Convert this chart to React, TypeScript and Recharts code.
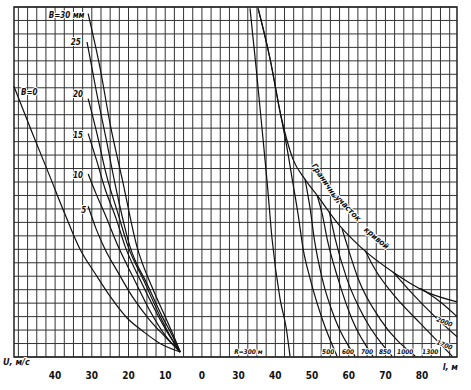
import React from 'react';
import { LineChart, Line, XAxis, YAxis, CartesianGrid, ReferenceDot, ReferenceArea } from 'recharts';

// left family: speed U, m/s (axis runs right to left), labelled by B, mm
const b0U = [51.2, 46.3, 41.4, 37.3, 33.2, 29.1, 25.0, 20.4, 16.0, 11.4, 5.9];
const b0Y = [20.1, 16.7, 13.4, 10.6, 8.0, 6.2, 4.5, 2.9, 1.9, 1.0, 0.37];
const b5U = [31.0, 28.8, 26.4, 23.1, 19.0, 14.4, 10.0, 5.9];
const b5Y = [11.2, 9.5, 8.0, 6.4, 4.5, 2.8, 1.5, 0.37];
const b10U = [31.0, 28.8, 26.1, 22.8, 18.7, 14.1, 10.0, 5.9];
const b10Y = [13.6, 12.1, 10.4, 8.2, 5.9, 3.4, 1.6, 0.37];
const b15U = [31.0, 28.8, 26.4, 23.4, 20.9, 16.6, 12.2, 8.9, 5.9];
const b15Y = [16.6, 14.7, 12.5, 10.3, 8.2, 5.6, 3.2, 1.6, 0.37];
const b20U = [31.0, 28.6, 26.1, 22.8, 20.1, 15.7, 11.7, 8.7, 5.9];
const b20Y = [19.2, 16.6, 13.6, 10.6, 8.2, 5.6, 3.2, 1.6, 0.37];
const b25U = [31.3, 28.6, 26.1, 23.7, 19.6, 14.9, 10.8, 8.1, 5.9];
const b25Y = [23.4, 19.5, 16.2, 12.9, 8.2, 5.4, 3.0, 1.6, 0.37];
const b30U = [31.0, 27.7, 25.0, 21.7, 17.7, 13.6, 10.0, 7.6, 5.9];
const b30Y = [25.5, 21.4, 17.3, 13.2, 8.2, 5.2, 3.0, 1.5, 0.37];

// right family: length l, m, labelled by radius R, m
const r300L = [33.1, 34.8, 36.4, 37.8, 39.1, 41.3, 43.0, 44.0];
const r300Y = [25.9, 21.4, 16.9, 12.9, 8.8, 4.3, 2.1, 0.07];
const r500L = [35.3, 38.6, 41.3, 43.2, 44.8, 46.2, 47.6, 49.5, 52.8, 56.8];
const r500Y = [25.9, 22.1, 18.2, 15.5, 12.9, 10.6, 8.0, 5.8, 2.8, 0.07];
const r600L = [48.1, 49.5, 50.6, 52.8, 56.3, 61.7];
const r600Y = [13.2, 11.0, 8.8, 5.8, 2.8, 0.07];
const r700L = [51.4, 52.8, 54.1, 57.1, 60.9, 66.6];
const r700Y = [12.0, 10.6, 8.8, 5.8, 2.8, 0.07];
const r850L = [54.7, 56.3, 59.5, 64.5, 71.8];
const r850Y = [10.8, 8.8, 5.8, 2.8, 0.07];
const r1000L = [58.2, 59.0, 62.6, 68.6, 78.1];
const r1000Y = [9.5, 8.8, 5.8, 2.8, 0.07];
const r1300L = [64.5, 67.2, 72.6, 79.5, 88.2];
const r1300Y = [7.9, 6.5, 4.5, 2.5, 0.07];
const r1700L = [72.1, 76.7, 83.5, 89.5];
const r1700Y = [6.3, 4.9, 3.0, 1.5];
const r2000L = [79.5, 84.9, 89.5];
const r2000Y = [5.1, 4.1, 3.0];
const edgeL = [35.3, 38.6, 41.3, 44.8, 48.1, 51.4, 57.7, 63.1, 72.1, 81.4, 89.5];
const edgeY = [25.9, 22.1, 18.2, 14.7, 13.2, 12.0, 9.7, 8.2, 6.3, 4.8, 4.1];

const xTicks = [-40, -30, -20, -10, 0, 10, 20, 30, 40, 50, 60];
const xTickLabels = ['40', '30', '20', '10', '0', '30', '40', '50', '60', '70', '80'];

const X_MIN = -51.2;
const X_MAX = 69.5;

const left = (u: number[], y: number[]) => u.map((v, i) => ({ x: -v, y: y[i] }));
const right = (l: number[], y: number[]) => l.map((v, i) => ({ x: v - 20, y: y[i] }));

const series = [
  left(b0U, b0Y), left(b5U, b5Y), left(b10U, b10Y), left(b15U, b15Y),
  left(b20U, b20Y), left(b25U, b25Y), left(b30U, b30Y),
  right(r300L, r300Y), right(r500L, r500Y), right(r600L, r600Y), right(r700L, r700Y),
  right(r850L, r850Y), right(r1000L, r1000Y), right(r1300L, r1300Y),
  right(r1700L, r1700Y), right(r2000L, r2000Y), right(edgeL, edgeY),
];

const vGrid: number[] = [];
for (let v = -50; v < X_MAX; v += 2.5) vGrid.push(v);
const hGrid: number[] = [];
for (let v = 1; v < 26; v += 1) hGrid.push(v);

const FONT = "'DejaVu Sans Condensed', 'Liberation Sans Narrow', 'DejaVu Sans', sans-serif";

const note = (txt: string, size: number, anchor = 'start', angle = 0) => (p: any) => (
  <text
    x={p.cx}
    y={p.cy}
    fontSize={size}
    fontFamily={FONT}
    fontStyle="italic"
    fontWeight="bold"
    fill="#111"
    stroke="#fff"
    strokeWidth={2}
    paintOrder="stroke"
    textAnchor={anchor}
    transform={angle ? `rotate(${angle} ${p.cx} ${p.cy})` : undefined}
  >
    {txt}
  </text>
);

export default function App() {
  return (
    <div style={{ position: 'absolute', left: 0, top: 0, background: '#fff' }}>
      <LineChart width={471} height={390} margin={{ top: 7, right: 14, bottom: 0, left: 14 }}>
        <CartesianGrid stroke="#333" strokeWidth={1} verticalValues={vGrid} />
        <XAxis
          type="number"
          dataKey="x"
          domain={[X_MIN, X_MAX]}
          ticks={xTicks}
          interval={0}
          tickFormatter={(v: number) => xTickLabels[xTicks.indexOf(v)] ?? ''}
          axisLine={false}
          tickLine={false}
          height={33}
          tickMargin={9}
          tick={{ fontSize: 10, fontWeight: 'bold', fill: '#111', fontFamily: FONT }}
        />
        <YAxis type="number" dataKey="y" domain={[0, 26]} ticks={hGrid} interval={0} hide />
        <ReferenceArea x1={X_MIN} x2={X_MAX} y1={0} y2={26} fill="none" stroke="#222" strokeWidth={1.5} />
        {series.map((d, i) => (
          <Line
            key={i}
            data={d}
            dataKey="y"
            type="monotone"
            stroke="#111"
            strokeWidth={1.2}
            dot={false}
            isAnimationActive={false}
          />
        ))}
        <ReferenceDot x={-32} y={25.2} r={0} shape={note('B=30 мм', 8, 'end')} />
        <ReferenceDot x={-33} y={23.2} r={0} shape={note('25', 8, 'end')} />
        <ReferenceDot x={-32.4} y={19.3} r={0} shape={note('20', 8, 'end')} />
        <ReferenceDot x={-32.4} y={16.3} r={0} shape={note('15', 8, 'end')} />
        <ReferenceDot x={-32.4} y={13.3} r={0} shape={note('10', 8, 'end')} />
        <ReferenceDot x={-31.5} y={10.7} r={0} shape={note('5', 8, 'end')} />
        <ReferenceDot x={-49.3} y={19.5} r={0} shape={note('B=0', 8)} />
        <ReferenceDot x={8.8} y={0.25} r={0} shape={note('R=300 м', 6.5)} />
        <ReferenceDot x={34.4} y={0.25} r={0} shape={note('500', 6.5, 'middle')} />
        <ReferenceDot x={39.8} y={0.25} r={0} shape={note('600', 6.5, 'middle')} />
        <ReferenceDot x={45.0} y={0.25} r={0} shape={note('700', 6.5, 'middle')} />
        <ReferenceDot x={49.9} y={0.25} r={0} shape={note('850', 6.5, 'middle')} />
        <ReferenceDot x={55.4} y={0.25} r={0} shape={note('1000', 6.5, 'middle')} />
        <ReferenceDot x={62.2} y={0.25} r={0} shape={note('1300', 6.5, 'middle')} />
        <ReferenceDot x={63.8} y={0.97} r={0} shape={note('1700', 6.5, 'start', 22)} />
        <ReferenceDot x={63.8} y={2.67} r={0} shape={note('2000', 6.5, 'start', 22)} />
        <ReferenceDot x={29.8} y={14.2} r={0} shape={note('Граничный', 8, 'start', 56)} />
        <ReferenceDot x={36.2} y={11.8} r={0} shape={note('участок', 8, 'start', 46)} />
        <ReferenceDot x={44.0} y={9.4} r={0} shape={note('кривой', 8, 'start', 40)} />
        <ReferenceDot x={-54.2} y={-0.6} r={0} ifOverflow="visible" shape={note('U, м/с', 9)} />
        <ReferenceDot x={65.6} y={-1.0} r={0} ifOverflow="visible" shape={note('l, м', 9)} />
      </LineChart>
    </div>
  );
}
